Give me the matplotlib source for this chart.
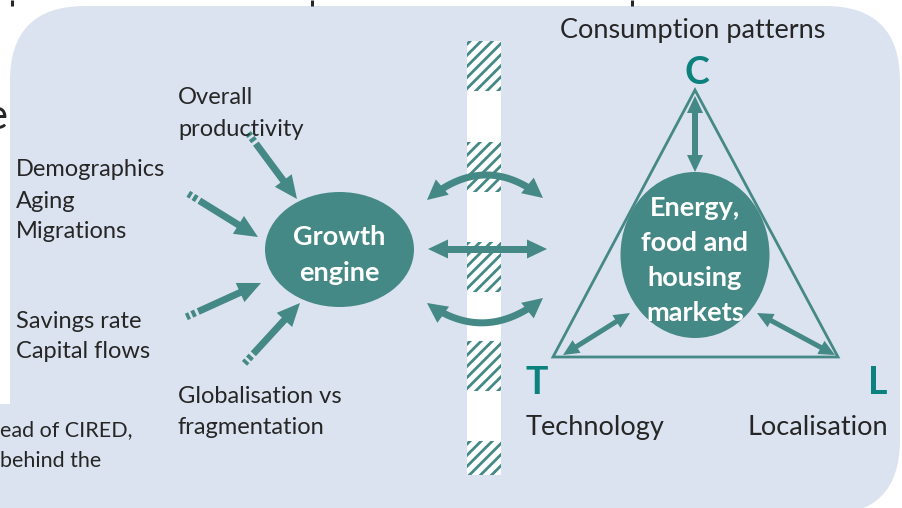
import numpy as np
import matplotlib
matplotlib.use("Agg")
import matplotlib.pyplot as plt
from matplotlib.patches import FancyBboxPatch, Rectangle, Ellipse, Polygon

plt.rcParams["font.family"] = ["Lato", "DejaVu Sans"]
plt.rcParams["hatch.linewidth"] = 2.0

# ---- data -------------------------------------------------------------
drivers = ["Overall\nproductivity", "Demographics\nAging\nMigrations",
           "Savings rate\nCapital flows", "Globalisation vs\nfragmentation"]
driver_xy = [(178, 98), (16, 170), (16, 321), (178, 397)]
driver_arrows = [((248, 133), (297, 199)), ((187, 193), (258, 237)),
                 ((184, 318), (261, 283)), ((243, 365), (300, 303))]
core_left = "Growth\nengine"
core_right = "Energy,\nfood and\nhousing\nmarkets"
corners = ["C", "T", "L"]
corner_names = ["Consumption patterns", "Technology", "Localisation"]

BG = "#dce3f0"
TEAL = "#448985"
TEAL2 = "#0b827d"
INK = "#262626"

fig = plt.figure(figsize=(9.03, 5.08), dpi=100)
ax = fig.add_axes([0, 0, 1, 1])
ax.set_xlim(0, 903)
ax.set_ylim(508, 0)
ax.set_aspect("equal")
ax.axis("off")

# ---- background panels ------------------------------------------------
ax.add_patch(FancyBboxPatch((10, 6), 890, 509, boxstyle="round,pad=0,rounding_size=75",
                            fc=BG, ec="none"))
ax.add_patch(Rectangle((0, 404), 120, 104, fc=BG, ec="none"))
for x in [12, 312, 632]:
    ax.plot([x, x], [0, 6], color=INK, lw=2.2, solid_capstyle="butt")
ax.text(-15, 117, "e", fontsize=30, color=INK, ha="left", va="center")
ax.text(0, 430, "ead of CIRED,", fontsize=15.5, color=INK, va="center")
ax.text(0, 461, "behind the", fontsize=15.5, color=INK, va="center")


def unit(p0, p1):
    d = np.array(p1, float) - np.array(p0, float)
    return d / np.hypot(*d)


def seg(p, d, a, b, w):
    n = np.array([-d[1], d[0]])
    p = np.array(p, float)
    return [p + d * a + n * w / 2, p + d * b + n * w / 2,
            p + d * b - n * w / 2, p + d * a - n * w / 2]


def head(tip, d, hw, hl):
    n = np.array([-d[1], d[0]])
    tip = np.array(tip, float)
    return [tip, tip - d * hl + n * hw / 2, tip - d * hl - n * hw / 2]


def dashed_arrow(p0, p1, w=7, hw=21, hl=23):
    d = unit(p0, p1)
    L = np.hypot(*(np.array(p1) - np.array(p0)))
    for a, b in [(0, 3.5), (6, 10), (13, L - hl + 1)]:
        ax.add_patch(Polygon(seg(p0, d, a, b, w), fc=TEAL, ec="none"))
    ax.add_patch(Polygon(head(p1, d, hw, hl), fc=TEAL, ec="none"))


def double_arrow(p0, p1, w, hw, hl):
    d = unit(p0, p1)
    L = np.hypot(*(np.array(p1) - np.array(p0)))
    ax.add_patch(Polygon(seg(p0, d, hl - 1, L - hl + 1, w), fc=TEAL, ec="none"))
    ax.add_patch(Polygon(head(p1, d, hw, hl), fc=TEAL, ec="none"))
    ax.add_patch(Polygon(head(p0, -d, hw, hl), fc=TEAL, ec="none"))


def curved_arrow(p0, pc, p1, w=7, hw=20, hl=20):
    t = np.linspace(0, 1, 200)[:, None]
    P0, PC, P1 = (np.array(p, float) for p in (p0, pc, p1))
    pts = (1 - t) ** 2 * P0 + 2 * (1 - t) * t * PC + t ** 2 * P1
    s = np.r_[0, np.cumsum(np.hypot(*np.diff(pts, axis=0).T))]
    idx = np.where((s > hl - 2) & (s < s[-1] - hl + 2))[0]
    left, right = [], []
    for i in idx:
        d = unit(pts[max(i - 1, 0)], pts[min(i + 1, len(pts) - 1)])
        n = np.array([-d[1], d[0]])
        left.append(pts[i] + n * w / 2)
        right.append(pts[i] - n * w / 2)
    ax.add_patch(Polygon(left + right[::-1], fc=TEAL, ec="none"))
    ax.add_patch(Polygon(head(p1, unit(PC, P1), hw, hl), fc=TEAL, ec="none"))
    ax.add_patch(Polygon(head(p0, unit(PC, P0), hw, hl), fc=TEAL, ec="none"))


# ---- hatched barrier --------------------------------------------------
ax.add_patch(Rectangle((467, 41), 34, 434, fc="white", ec="none"))
for y0 in [41, 142, 242, 341, 441]:
    ax.add_patch(Rectangle((467, y0), 34, min(50, 475 - y0), fc="white",
                           ec=TEAL, lw=0, hatch="///"))

# ---- left side: growth engine -----------------------------------------
ax.add_patch(Ellipse((339.5, 249.5), 149, 115, fc=TEAL, ec="none"))
for k, line in enumerate(core_left.split("\n")):
    ax.text(339.5, 237 + 36 * k, line, color="white", fontsize=19.5, fontweight="bold",
            ha="center", va="center")
for label, (x, y), (p0, p1) in zip(drivers, driver_xy, driver_arrows):
    for k, line in enumerate(label.split("\n")):
        ax.text(x, y + 31 * k, line, color=INK, fontsize=17, va="center")
    d = unit(p0, p1)
    dashed_arrow(np.array(p1) - d * 82, p1)

# ---- exchanges across the barrier -------------------------------------
curved_arrow((427, 200), (485, 151), (543, 198))
double_arrow((428, 249), (547, 249), 7, 19, 20)
curved_arrow((427, 303), (485, 345), (543, 298))

# ---- right side: triangle ---------------------------------------------
tri = [(695, 90), (553, 357), (838, 357)]
ax.add_patch(Polygon(tri, closed=True, fc="none", ec=TEAL, lw=2))
ax.add_patch(Ellipse((695, 255), 149, 166, fc=TEAL, ec="none"))
for k, line in enumerate(core_right.split("\n")):
    ax.text(695, 208 + 35 * k, line, color="white", fontsize=19.5, fontweight="bold",
            ha="center", va="center")
double_arrow((695, 96), (695, 172), 6, 16, 17)
double_arrow((563, 355), (630, 313), 5, 15, 16)
double_arrow((835, 355), (757, 313), 5, 15, 16)

for c, (x, y) in zip(corners, [(697, 73), (537, 383), (878, 383)]):
    ax.text(x, y, c, color=TEAL2, fontsize=27, fontweight="bold", ha="center", va="center")
for name, (x, y) in zip(corner_names, [(693, 30), (595, 428), (818, 428)]):
    ax.text(x, y, name, color=INK, fontsize=19.5, ha="center", va="center")

fig.savefig("out.png", dpi=100, facecolor="white")
